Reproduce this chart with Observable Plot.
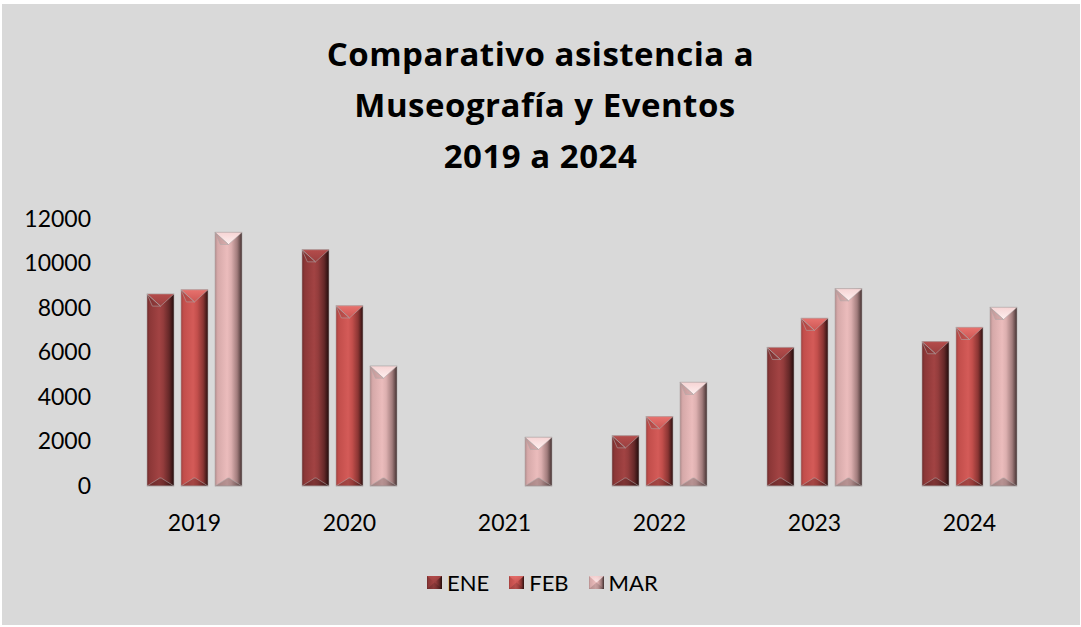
<!DOCTYPE html>
<html>
<head>
<meta charset="utf-8">
<script src="https://cdn.jsdelivr.net/npm/d3@7"></script>
<script src="https://cdn.jsdelivr.net/npm/@observablehq/plot@0.6"></script>
<style>
  html, body { margin: 0; padding: 0; background: #fff; width: 1081px; height: 627px; overflow: hidden; }
  #bg { position: absolute; left: 2px; top: 4px; width: 1078px; height: 621px; background: #d9d9d9; }
  #title { position: absolute; left: 0; top: 28px; width: 1081px; text-align: center; font-family: "Open Sans", Lato, sans-serif; font-weight: bold; font-size: 33px; letter-spacing: 0.5px; line-height: 51px; color: #000; white-space: pre; }
  #chart { position: absolute; left: 0; top: 190px; }
  #legend { position: absolute; left: 427px; top: 569px; display: flex; align-items: center; font-family: Lato, "Open Sans", sans-serif; font-size: 22px; color: #000; }
  #legend .item { display: flex; align-items: center; margin-right: 20px; }
  #legend svg { margin-right: 5px; }
</style>
</head>
<body>
<svg width="0" height="0" style="position:absolute">
  <defs>
    <linearGradient id="gENE" x1="0" x2="1" y1="0" y2="0">
      <stop offset="0" stop-color="#6e2b2b"/>
      <stop offset="0.1" stop-color="#8c3737"/>
      <stop offset="0.45" stop-color="#a24343"/>
      <stop offset="0.6" stop-color="#933c3c"/>
      <stop offset="0.82" stop-color="#652828"/>
      <stop offset="0.94" stop-color="#381515"/>
      <stop offset="1" stop-color="#261010"/>
    </linearGradient>
    <linearGradient id="gFEB" x1="0" x2="1" y1="0" y2="0">
      <stop offset="0" stop-color="#a0403e"/>
      <stop offset="0.1" stop-color="#c24e4b"/>
      <stop offset="0.45" stop-color="#d45b58"/>
      <stop offset="0.6" stop-color="#c34f4c"/>
      <stop offset="0.82" stop-color="#8a3533"/>
      <stop offset="0.94" stop-color="#4a1c1b"/>
      <stop offset="1" stop-color="#2e1010"/>
    </linearGradient>
    <linearGradient id="gMAR" x1="0" x2="1" y1="0" y2="0">
      <stop offset="0" stop-color="#b38d8d"/>
      <stop offset="0.1" stop-color="#d6a9a9"/>
      <stop offset="0.45" stop-color="#ebbcbc"/>
      <stop offset="0.6" stop-color="#dcafaf"/>
      <stop offset="0.82" stop-color="#a17c7c"/>
      <stop offset="0.94" stop-color="#634a4a"/>
      <stop offset="1" stop-color="#3d2c2c"/>
    </linearGradient>
    <linearGradient id="capENE" x1="0" x2="0" y1="0" y2="1">
      <stop offset="0" stop-color="#b54c4b"/>
      <stop offset="1" stop-color="#9a4040"/>
    </linearGradient>
    <linearGradient id="capFEB" x1="0" x2="0" y1="0" y2="1">
      <stop offset="0" stop-color="#e8726e"/>
      <stop offset="1" stop-color="#cc5754"/>
    </linearGradient>
    <linearGradient id="capMAR" x1="0" x2="0" y1="0" y2="1">
      <stop offset="0" stop-color="#f6d4d4"/>
      <stop offset="1" stop-color="#fff0f0"/>
    </linearGradient>
  </defs>
</svg>

<div id="bg"></div>
<div id="title">Comparativo asistencia a
 Museografía y Eventos
2019 a 2024</div>
<div id="chart"></div>
<div id="legend"></div>

<script>
// ---- Data ----
const years = ["2019", "2020", "2021", "2022", "2023", "2024"];
const months = ["ENE", "FEB", "MAR"];
const ene = [8630, 10620, 0, 2260, 6230, 6490];
const feb = [8820, 8100, 0, 3120, 7540, 7130];
const mar = [11400, 5390, 2190, 4660, 8870, 8030];
const yTicks = [0, 2000, 4000, 6000, 8000, 10000, 12000];

const series = { ENE: ene, FEB: feb, MAR: mar };
const rows = [];
years.forEach((y, i) => months.forEach(m => rows.push({ year: y, month: m, value: series[m][i] })));

const fills = months.map(m => `url(#g${m})`);

const plot = Plot.plot({
  width: 1081,
  height: 360,
  marginLeft: 117,
  marginRight: 34,
  marginTop: 29,
  marginBottom: 64,
  style: { fontFamily: "Lato, 'Open Sans', sans-serif", fontSize: "23px", color: "#000", background: "transparent", overflow: "visible" },
  fx: { domain: years, paddingInner: 0.29, paddingOuter: 0.145, label: null },
  x: { domain: months, padding: 0.213, axis: null },
  y: { domain: [0, 12000], label: null },
  color: { domain: months, range: fills },
  marks: [
    Plot.axisY({ ticks: yTicks, tickSize: 0, tickPadding: 0, dx: -48.5, tickFormat: d => String(d), label: null, fontSize: 23 }),
    Plot.axisFx({ anchor: "bottom", tickSize: 0, tickPadding: 28, label: null, fontSize: 23 }),
    Plot.barY(rows, { fx: "year", x: "month", y: "value", fill: "month", filter: d => d.value > 0, stroke: "#b0a8a8", strokeWidth: 0.8, strokeOpacity: 0.7 })
  ]
});
document.getElementById("chart").appendChild(plot);

// Bevel decoration derived from the bars Plot drew
const NS = "http://www.w3.org/2000/svg";
plot.querySelectorAll('g[aria-label="bar"] rect').forEach(r => {
  const x = +r.getAttribute("x"), y = +r.getAttribute("y");
  const w = +r.getAttribute("width"), h = +r.getAttribute("height");
  if (!(h > 1)) return;
  const f = r.getAttribute("fill") || "";
  const m = (f.match(/#g(\w+)/) || [])[1] || "ENE";
  const g = r.parentNode;
  const capH = Math.min(w * 0.45, h / 2);
  const cap = document.createElementNS(NS, "polygon");
  cap.setAttribute("points", `${x},${y} ${x + w},${y} ${x + w / 2},${y + capH}`);
  cap.setAttribute("fill", `url(#cap${m})`);
  g.appendChild(cap);
  const shadeL = document.createElementNS(NS, "polygon");
  shadeL.setAttribute("points", `${x},${y} ${x + w / 2},${y + capH} ${x + w * 0.2},${y + capH}`);
  shadeL.setAttribute("fill", "#000"); shadeL.setAttribute("fill-opacity", "0.08");
  g.appendChild(shadeL);
  const bH = Math.min(8, h / 3);
  const bot = document.createElementNS(NS, "polygon");
  bot.setAttribute("points", `${x},${y + h} ${x + w},${y + h} ${x + w - bH * 1.6},${y + h - bH} ${x + bH * 1.6},${y + h - bH}`);
  bot.setAttribute("fill", "#000"); bot.setAttribute("fill-opacity", "0.22");
  g.appendChild(bot);
});

// Legend (HTML)
const legend = document.getElementById("legend");
months.forEach(m => {
  const item = document.createElement("div");
  item.className = "item";
  item.innerHTML = `<svg width="15" height="13" viewBox="0 0 15 13">
      <rect x="0" y="0" width="15" height="13" fill="url(#g${m})"/>
      <polygon points="0,0 15,0 7.5,6.5" fill="url(#cap${m})" fill-opacity="0.8"/>
      <polygon points="0,13 15,13 7.5,6.5" fill="#000" fill-opacity="0.15"/>
    </svg><span>${m}</span>`;
  legend.appendChild(item);
});
</script>
</body>
</html>
